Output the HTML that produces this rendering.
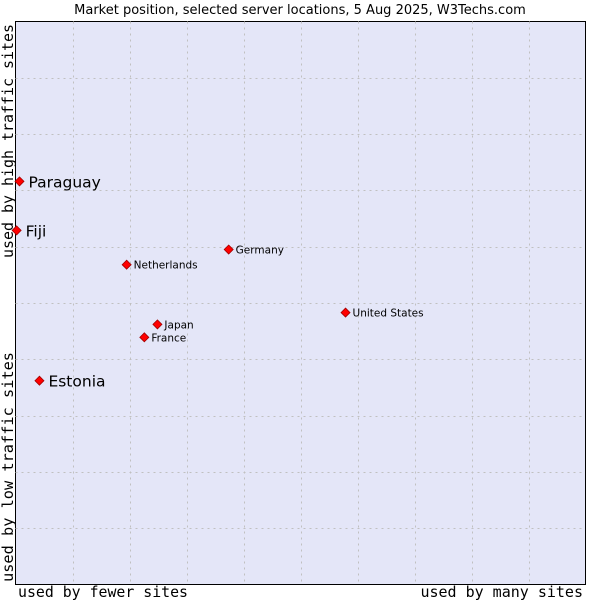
<!DOCTYPE html>
<html><head><meta charset="utf-8"><style>
body{margin:0;background:#fff;width:600px;height:600px;overflow:hidden}
svg text{font-family:"DejaVu Sans","Liberation Sans",sans-serif}
.mono{font-family:"DejaVu Sans Mono","Liberation Mono",monospace!important}
</style></head><body>
<svg id="chart" width="600" height="600" xmlns="http://www.w3.org/2000/svg">
<text x="300" y="14" text-anchor="middle" font-size="13" fill="#000">Market position, selected server locations, 5 Aug 2025, W3Techs.com</text>
<rect x="15.5" y="21.5" width="570" height="563" fill="#e4e6f8" stroke="#000" stroke-width="1"/>
<g id="grid"></g>
<g id="points"></g>
<text class="mono" x="18" y="597" font-size="15" textLength="170" lengthAdjust="spacingAndGlyphs">used by fewer sites</text>
<text class="mono" x="583" y="597" font-size="15" text-anchor="end">used by many sites</text>
<text class="mono" transform="translate(13,582) rotate(-90)" font-size="15" textLength="230" lengthAdjust="spacingAndGlyphs">used by low traffic sites</text>
<text class="mono" transform="translate(13,258) rotate(-90)" font-size="15" textLength="234" lengthAdjust="spacingAndGlyphs">used by high traffic sites</text>
</svg>
<script>
const countries=["Paraguay","Fiji","Estonia","Netherlands","Germany","United States","Japan","France"];
const xValues=[0.7,0.2,4.2,19.5,37.4,57.9,24.9,22.6];
const yValues=[71.6,62.9,36.2,56.8,59.5,48.3,46.2,43.9];
const bigLabel=[true,true,true,false,false,false,false,false];
const L=15.5,R=585.5,T=21.5,B=584.5;
const sx=v=>L+v/100*(R-L), sy=v=>B-v/100*(B-T);
const NS="http://www.w3.org/2000/svg";
const g=document.getElementById('grid'),p=document.getElementById('points');
for(let i=1;i<10;i++){
 const vx=document.createElementNS(NS,'line');
 
 
 const x=Math.round(sx(i*10))+0.5;
 vx.setAttribute('x1',x);vx.setAttribute('x2',x);vx.setAttribute('y1',T);vx.setAttribute('y2',B);
 vx.setAttribute('stroke','#c0c0c0');vx.setAttribute('stroke-dasharray','2,4');g.appendChild(vx);
 const hy=document.createElementNS(NS,'line');
 
 
 const y=Math.round(sy(i*10))+0.5;
 hy.setAttribute('x1',L);hy.setAttribute('x2',R);hy.setAttribute('y1',y);hy.setAttribute('y2',y);
 hy.setAttribute('stroke','#c0c0c0');hy.setAttribute('stroke-dasharray','2,4');g.appendChild(hy);
}
countries.forEach((c,i)=>{
 const x=sx(xValues[i]),y=sy(yValues[i]);
 const m=document.createElementNS(NS,'path');
 
 
 m.setAttribute('d',`M${x},${y-4.5} L${x+4.5},${y} L${x},${y+4.5} L${x-4.5},${y} Z`);
 m.setAttribute('fill','#ff0000');m.setAttribute('stroke','#a00000');m.setAttribute('stroke-width','0.8');
 p.appendChild(m);
 const t=document.createElementNS(NS,'text');
 
 
 t.setAttribute('x',x+(bigLabel[i]?9:7));
 t.setAttribute('y',y+(bigLabel[i]?6:4));
 t.setAttribute('font-size',bigLabel[i]?'15.5':'10.5');
 t.textContent=c;p.appendChild(t);
});
</script>
</body></html>
